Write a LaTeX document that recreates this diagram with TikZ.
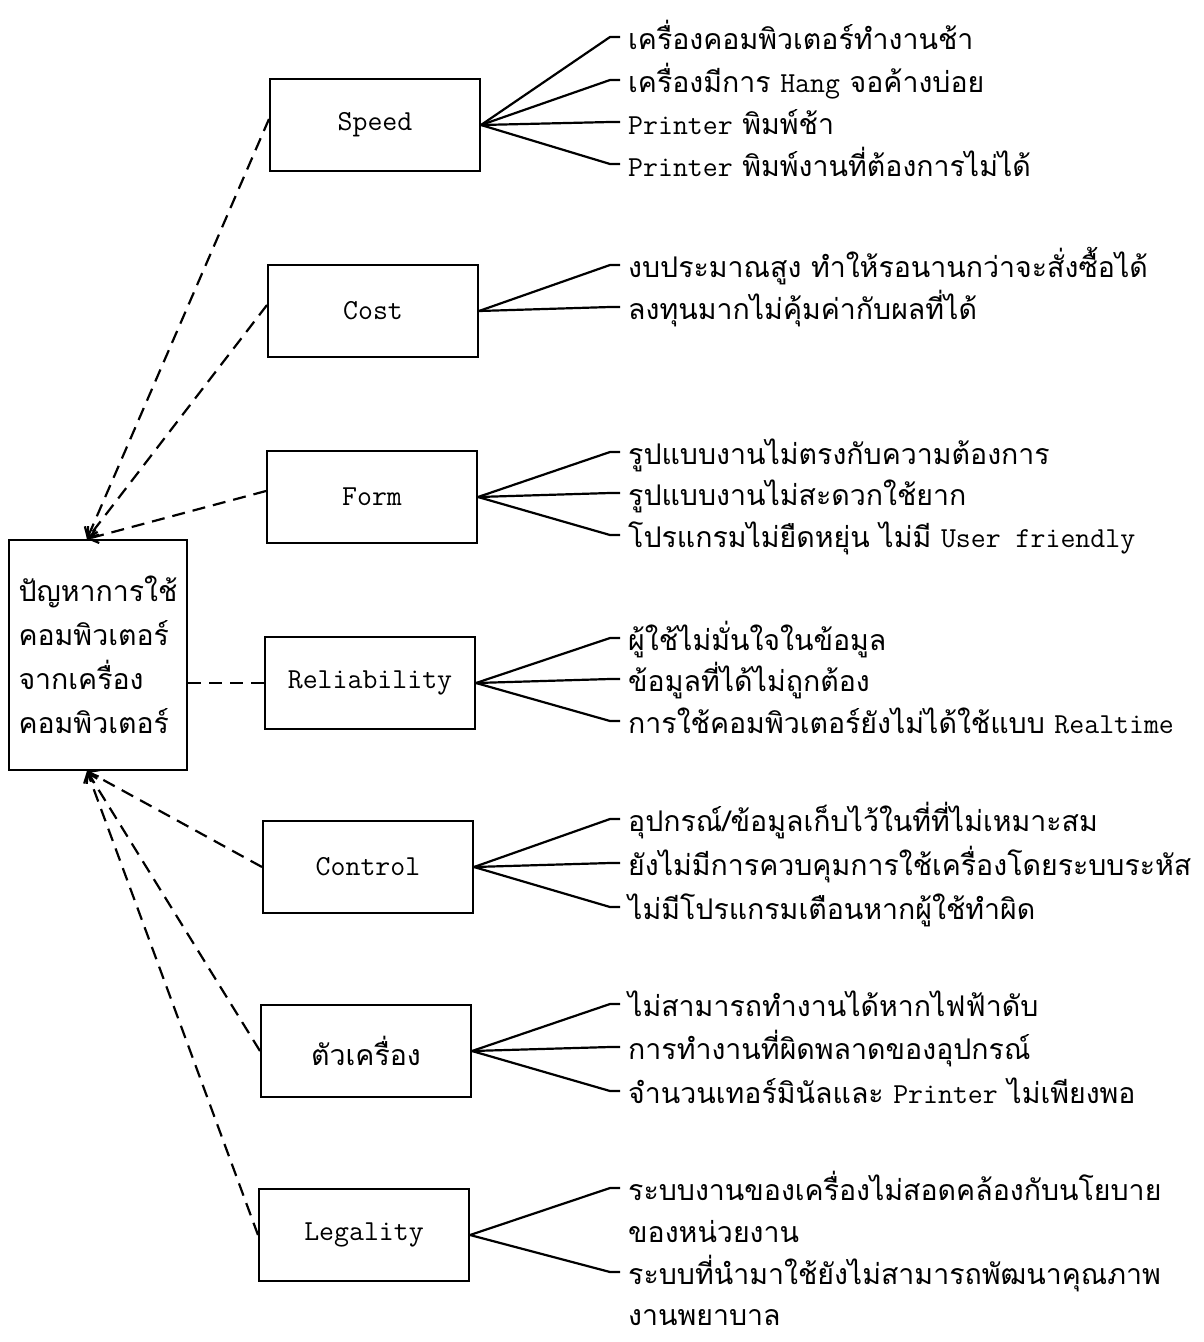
\documentclass[tikz,border=0pt]{standalone}
\usepackage{fontspec}
\newfontfamily\thaifont[Script=Thai]{Loma}
\usetikzlibrary{arrows.meta}
% latin words are set in a typewriter face
\newcommand\en[1]{{\ttfamily\fontsize{29}{33}\selectfont #1}}
\tikzset{
  box/.style={draw,line width=2pt,minimum width=210pt,minimum height=92pt},
  link/.style={line width=2.2pt,dash pattern=on 13pt off 8pt},
  fan/.style={line width=2.2pt},
  item/.style={anchor=base west,inner sep=0pt},
  tip/.style={-{Straight Barb[length=9pt,width=14pt]}}
}
\begin{document}
\begin{tikzpicture}[x=1pt,y=-1pt,font=\thaifont\fontsize{28.5}{44}\selectfont]
\useasboundingbox (0,0) rectangle (1204,1342);
\node[draw,line width=2pt,minimum width=178pt,minimum height=230pt,align=left] (prob) at (98,655) {ปัญหาการใช้\\คอมพิวเตอร์\\จากเครื่อง\\คอมพิวเตอร์};
\coordinate (ptop) at ([xshift=-11pt]prob.north);
\coordinate (pbot) at ([xshift=-11pt]prob.south);
\foreach \n/\x/\y/\t/\b in {
  speed/375/125/{\en{Speed}}/{49/{เครื่องคอมพิวเตอร์ทำงานช้า},92/{เครื่องมีการ \en{Hang} จอค้างบ่อย},134/{\en{Printer} พิมพ์ช้า},176/{\en{Printer} พิมพ์งานที่ต้องการไม่ได้}},
  cost/373/311/{\en{Cost}}/{277/{งบประมาณสูง ทำให้รอนานกว่าจะสั่งซื้อได้},319/{ลงทุนมากไม่คุ้มค่ากับผลที่ได้}},
  form/372/497/{\en{Form}}/{464/{รูปแบบงานไม่ตรงกับความต้องการ},505/{รูปแบบงานไม่สะดวกใช้ยาก},547/{โปรแกรมไม่ยืดหยุ่น ไม่มี \en{User friendly}}},
  reliability/370/683/{\en{Reliability}}/{650/{ผู้ใช้ไม่มั่นใจในข้อมูล},691/{ข้อมูลที่ได้ไม่ถูกต้อง},733/{การใช้คอมพิวเตอร์ยังไม่ได้ใช้แบบ \en{Realtime}}},
  control/368/867/{\en{Control}}/{831/{อุปกรณ์/ข้อมูลเก็บไว้ในที่ที่ไม่เหมาะสม},875/{ยังไม่มีการควบคุมการใช้เครื่องโดยระบบระหัส},919/{ไม่มีโปรแกรมเตือนหากผู้ใช้ทำผิด}},
  machine/366/1051/{ตัวเครื่อง}/{1016/{ไม่สามารถทำงานได้หากไฟฟ้าดับ},1059/{การทำงานที่ผิดพลาดของอุปกรณ์},1103/{จำนวนเทอร์มินัลและ \en{Printer} ไม่เพียงพอ}},
  legality/364/1235/{\en{Legality}}/{1200/{ระบบงานของเครื่องไม่สอดคล้องกับนโยบาย},1284/{ระบบที่นำมาใช้ยังไม่สามารถพัฒนาคุณภาพ}}} {
  \node[box] (\n) at (\x,\y) {\t};
  \foreach \yy/\s [count=\i] in \b {
    \node[item] (\n-\i) at (628,\yy) {\s};
    \draw[fan] (\n.east) -- ([xshift=-18pt,yshift=12pt]\n-\i.base west) -- ([xshift=-8pt,yshift=12pt]\n-\i.base west);
  }
}
% second lines of the legality items
\node[item] (legality-1b) at (628,1242) {ของหน่วยงาน};
\node[item] (legality-2b) at (628,1325) {งานพยาบาล};
% dashed links into the problem box
\foreach \n in {speed,cost,form}
  \draw[link,tip] ([yshift=6pt]\n.west) -- (ptop);
\draw[link] (prob.east |- reliability.west) -- (reliability.west);
\foreach \n in {control,machine,legality}
  \draw[link,tip] (\n.west) -- (pbot);
\end{tikzpicture}
\end{document}
